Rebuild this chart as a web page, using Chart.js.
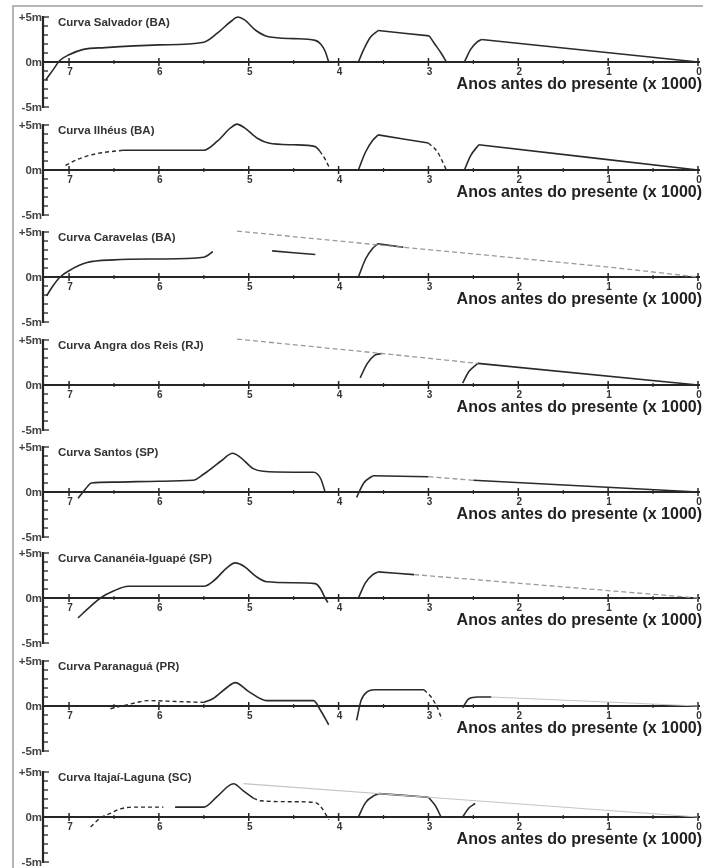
<!DOCTYPE html>
<html>
<head>
<meta charset="utf-8">
<script src="https://cdn.jsdelivr.net/npm/chart.js@4.4.1/dist/chart.umd.min.js"></script>
<style>
  html, body { margin: 0; padding: 0; background: #fff; }
  #wrap { position: relative; width: 703px; height: 868px; overflow: hidden; }
  #frame { position: absolute; left: 12px; top: 5px; width: 700px; height: 900px; border: 2px solid #b5b5b5; box-sizing: border-box; }
  .panel { position: absolute; left: 0; }
</style>
</head>
<body>
<div id="wrap"><div id="frame"></div></div>
<script>
// eixos comuns
const xTicks = [7, 6, 5, 4, 3, 2, 1, 0];
const xMinorTicks = [6.5, 5.5, 4.5, 3.5, 2.5, 1.5, 0.5];
const yTicks = [5, 4, 3, 2, 1, 0, -1, -2, -3, -4, -5];
const yLabelValues = [5, 0, -5];
const yLabelTexts = ['+5m', '0m', '-5m'];
const xTitle = 'Anos antes do presente (x 1000)';

const panelTitles = [
  'Curva Salvador (BA)',
  'Curva Ilhéus (BA)',
  'Curva Caravelas (BA)',
  'Curva Angra dos Reis (RJ)',
  'Curva Santos (SP)',
  'Curva Cananéia-Iguapé (SP)',
  'Curva Paranaguá (PR)',
  'Curva Itajaí-Laguna (SC)'
];

// curvas: [idade (x1000 anos), nível (m)]
const salvadorSolid = [
  [[7.26, -2.0], [7.18, -0.9], [7.1, 0.2], [7.0, 0.8], [6.84, 1.4], [6.6, 1.6], [6.0, 1.9], [5.5, 2.2], [5.35, 3.2], [5.2, 4.5], [5.12, 5.0], [5.05, 4.7], [4.92, 3.5], [4.78, 2.8], [4.5, 2.6], [4.26, 2.4], [4.2, 2.0], [4.15, 1.2], [4.11, 0]],
  [[3.78, 0], [3.72, 1.4], [3.65, 2.7], [3.56, 3.5]],
  [[3.56, 3.5], [2.99, 2.9]],
  [[2.99, 2.9], [2.93, 2.0], [2.86, 1.0], [2.8, 0]],
  [[2.6, 0], [2.53, 1.4], [2.46, 2.2], [2.41, 2.5]],
  [[2.41, 2.5], [0, 0]]
];

const ilheusSolid = [
  [[6.4, 2.2], [5.5, 2.2], [5.35, 3.2], [5.2, 4.7], [5.13, 5.1], [5.05, 4.7], [4.9, 3.5], [4.78, 3.0], [4.5, 2.8], [4.26, 2.6], [4.21, 2.1]],
  [[3.78, 0], [3.7, 2.0], [3.62, 3.3], [3.56, 3.9]],
  [[3.56, 3.9], [3.0, 3.0]],
  [[2.6, 0], [2.53, 1.6], [2.44, 2.8]],
  [[2.44, 2.8], [0, 0]]
];
const ilheusDashed = [
  [[7.04, 0.5], [6.9, 1.2], [6.7, 1.8], [6.4, 2.2]],
  [[4.21, 2.1], [4.15, 1.2], [4.09, 0]],
  [[3.0, 3.0], [2.9, 2.0], [2.8, 0]]
];

const caravelasSolid = [
  [[7.25, -2.1], [7.18, -1.0], [7.1, 0], [7.0, 0.7], [6.8, 1.6], [6.5, 1.9], [6.0, 2.0], [5.5, 2.2], [5.4, 2.8]],
  [[4.74, 2.9], [4.26, 2.5]],
  [[3.78, 0], [3.7, 2.0], [3.62, 3.2], [3.56, 3.7]],
  [[3.56, 3.7], [3.28, 3.3]]
];
const caravelasGray = [
  [[5.13, 5.1], [3.28, 3.3], [1.0, 1.1], [0, 0]]
];

const angraSolid = [
  [[3.76, 0.8], [3.68, 2.4], [3.6, 3.3], [3.52, 3.5]],
  [[2.62, 0.2], [2.55, 1.5], [2.45, 2.4]],
  [[2.45, 2.4], [0, 0]]
];
const angraGray = [
  [[5.13, 5.1], [3.52, 3.5], [2.45, 2.4]]
];

const santosSolid = [
  [[6.9, -0.7], [6.82, 0.3], [6.75, 1.0], [6.5, 1.1], [6.0, 1.2], [5.62, 1.3], [5.5, 2.0], [5.3, 3.5], [5.18, 4.3], [5.1, 3.9], [4.95, 2.6], [4.84, 2.3], [4.5, 2.2], [4.28, 2.2], [4.2, 1.5], [4.15, 0]],
  [[3.8, -0.6], [3.72, 1.0], [3.62, 1.8]],
  [[3.62, 1.8], [3.0, 1.7]],
  [[2.5, 1.3], [0, 0]]
];
const santosGray = [
  [[3.0, 1.7], [2.5, 1.3]]
];

const cananeiaSolid = [
  [[6.9, -2.2], [6.78, -1.1], [6.65, 0], [6.5, 0.8], [6.34, 1.3], [6.0, 1.3], [5.5, 1.3], [5.38, 2.0], [5.25, 3.3], [5.15, 3.9], [5.05, 3.5], [4.92, 2.4], [4.8, 1.8], [4.5, 1.7], [4.26, 1.6], [4.2, 1.0], [4.15, 0], [4.12, -0.5]],
  [[3.78, 0], [3.7, 1.7], [3.62, 2.6], [3.56, 2.9]],
  [[3.56, 2.9], [3.16, 2.6]]
];
const cananeiaGray = [
  [[3.16, 2.6], [0, 0]]
];

const paranaguaSolid = [
  [[5.5, 0.4], [5.4, 0.8], [5.25, 2.0], [5.15, 2.6], [5.0, 1.6], [4.8, 0.6], [4.5, 0.6], [4.28, 0.6], [4.2, -0.5], [4.11, -2.1]],
  [[3.8, -1.6], [3.75, 0.6], [3.68, 1.6], [3.6, 1.8], [3.05, 1.8]],
  [[2.62, -0.2], [2.55, 0.8], [2.45, 1.0], [2.3, 1.0]]
];
const paranaguaDashed = [
  [[6.54, -0.3], [6.37, 0.1], [6.24, 0.4], [6.13, 0.6], [5.8, 0.5], [5.5, 0.4]],
  [[3.05, 1.8], [2.97, 1.0], [2.9, -0.2], [2.85, -1.5]]
];
const paranaguaLight = [
  [[2.3, 1.0], [0, 0]]
];

const itajaiSolid = [
  [[5.82, 1.1], [5.5, 1.1], [5.35, 2.3], [5.17, 3.7], [5.06, 2.9], [4.95, 2.1]],
  [[3.78, 0], [3.7, 1.6], [3.6, 2.4], [3.55, 2.6]],
  [[3.55, 2.6], [3.0, 2.2]],
  [[3.0, 2.2], [2.92, 1.2], [2.86, 0]],
  [[2.62, 0], [2.55, 1.0], [2.48, 1.5]]
];
const itajaiDashed = [
  [[6.76, -1.1], [6.65, -0.1], [6.54, 0.4], [6.43, 0.9], [6.28, 1.1], [5.95, 1.1]],
  [[4.95, 2.1], [4.87, 1.8], [4.5, 1.7], [4.26, 1.6], [4.18, 0.9], [4.11, -0.3]]
];
const itajaiLight = [
  [[5.06, 3.7], [0, 0]]
];

// montagem dos painéis
const panelCurves = [
  { solid: salvadorSolid },
  { solid: ilheusSolid, dashed: ilheusDashed },
  { solid: caravelasSolid, gray: caravelasGray },
  { solid: angraSolid, gray: angraGray },
  { solid: santosSolid, gray: santosGray },
  { solid: cananeiaSolid, gray: cananeiaGray },
  { solid: paranaguaSolid, dashed: paranaguaDashed, light: paranaguaLight },
  { solid: itajaiSolid, dashed: itajaiDashed, light: itajaiLight }
];

// linha do 0m de cada painel (px na página)
const panelZeros = [62, 170, 277, 385, 492, 598, 706, 817];
const CANVAS_W = 703, CANVAS_H = 108, ZERO_IN_CANVAS = 56;

const lineStyles = {
  solid: { borderColor: '#2a2a2a', borderWidth: 1.6, borderDash: [] },
  dashed: { borderColor: '#2a2a2a', borderWidth: 1.4, borderDash: [4, 3] },
  gray: { borderColor: '#9a9a9a', borderWidth: 1.3, borderDash: [5, 3] },
  light: { borderColor: '#c4c4c4', borderWidth: 1.2, borderDash: [] }
};
const FONT = "'Liberation Sans', Arial, sans-serif";

function toDatasets(segments, style) {
  if (!segments) return [];
  return segments.map(seg => ({
    data: seg.map(p => ({ x: p[0], y: p[1] })),
    ...lineStyles[style],
    pointRadius: 0,
    fill: false,
    clip: false,
    cubicInterpolationMode: 'monotone'
  }));
}

// eixos desenhados com as escalas do Chart.js
const axesPlugin = {
  id: 'axesPlugin',
  beforeDatasetsDraw(chart) {
    const { ctx, scales: { x, y } } = chart;
    const y0 = y.getPixelForValue(0);
    const xLeft = x.getPixelForValue(x.max);
    const xRight = x.getPixelForValue(0);
    ctx.save();
    ctx.strokeStyle = '#262626';
    // linha 0m
    ctx.lineWidth = 2.2;
    ctx.beginPath(); ctx.moveTo(xLeft, y0); ctx.lineTo(xRight + 2, y0); ctx.stroke();
    // eixo vertical
    ctx.beginPath(); ctx.moveTo(xLeft, y.getPixelForValue(5) - 1); ctx.lineTo(xLeft, y.getPixelForValue(-5) + 1); ctx.stroke();
    ctx.lineWidth = 1.3;
    yTicks.forEach(v => {
      const py = y.getPixelForValue(v);
      const len = (v === 5 || v === -5) ? 6 : 5;
      ctx.beginPath(); ctx.moveTo(xLeft, py); ctx.lineTo(xLeft + len, py); ctx.stroke();
    });
    // marcas do eixo x
    ctx.lineWidth = 1.5;
    xTicks.forEach(v => {
      const px = x.getPixelForValue(v);
      ctx.beginPath(); ctx.moveTo(px, y0 - 4); ctx.lineTo(px, y0 + 4); ctx.stroke();
    });
    ctx.lineWidth = 1.2;
    xMinorTicks.forEach(v => {
      const px = x.getPixelForValue(v);
      ctx.beginPath(); ctx.moveTo(px, y0 - 2); ctx.lineTo(px, y0 + 2); ctx.stroke();
    });
    ctx.restore();
  },
  afterDatasetsDraw(chart, args, opts) {
    const { ctx, scales: { x, y } } = chart;
    const y0 = y.getPixelForValue(0);
    const xLeft = x.getPixelForValue(x.max);
    ctx.save();
    ctx.textBaseline = 'middle';
    // rótulos y
    ctx.fillStyle = '#444';
    ctx.font = 'bold 11.5px ' + FONT;
    ctx.textAlign = 'right';
    yLabelValues.forEach((v, k) => {
      ctx.fillText(yLabelTexts[k], xLeft - 1, y.getPixelForValue(v) + 1);
    });
    // rótulos x
    ctx.fillStyle = '#333';
    ctx.textAlign = 'center';
    ctx.textBaseline = 'alphabetic';
    ctx.font = 'bold 10px ' + FONT;
    xTicks.forEach(v => {
      ctx.fillText(String(v), x.getPixelForValue(v) + 1, y0 + 13);
    });
    // título do painel
    ctx.textAlign = 'left';
    ctx.textBaseline = 'middle';
    ctx.font = 'bold 11.5px ' + FONT;
    ctx.fillText(opts.title, 58, y0 - 39);
    // título do eixo
    ctx.textAlign = 'right';
    ctx.textBaseline = 'alphabetic';
    ctx.fillStyle = '#222';
    ctx.font = 'bold 16px ' + FONT;
    ctx.fillText(xTitle, 702, y0 + 27);
    ctx.restore();
  }
};

const wrap = document.getElementById('wrap');
panelTitles.forEach((title, i) => {
  const cv = document.createElement('canvas');
  cv.className = 'panel';
  cv.width = CANVAS_W;
  cv.height = CANVAS_H;
  cv.style.width = CANVAS_W + 'px';
  cv.style.height = CANVAS_H + 'px';
  cv.style.top = (panelZeros[i] - ZERO_IN_CANVAS) + 'px';
  wrap.appendChild(cv);

  const c = panelCurves[i];
  const datasets = [
    ...toDatasets(c.light, 'light'),
    ...toDatasets(c.gray, 'gray'),
    ...toDatasets(c.dashed, 'dashed'),
    ...toDatasets(c.solid, 'solid')
  ];

  new Chart(cv.getContext('2d'), {
    type: 'line',
    data: { datasets: datasets },
    options: {
      responsive: false,
      animation: false,
      devicePixelRatio: 1,
      events: [],
      layout: { padding: { left: 43, right: 5, top: 11, bottom: 7 } },
      scales: {
        x: { type: 'linear', reverse: true, min: 0, max: 7.29, display: false },
        y: { type: 'linear', min: -5, max: 5, display: false }
      },
      plugins: {
        legend: { display: false },
        tooltip: { enabled: false },
        axesPlugin: { title: title }
      }
    },
    plugins: [axesPlugin]
  });
});
</script>
</body>
</html>
